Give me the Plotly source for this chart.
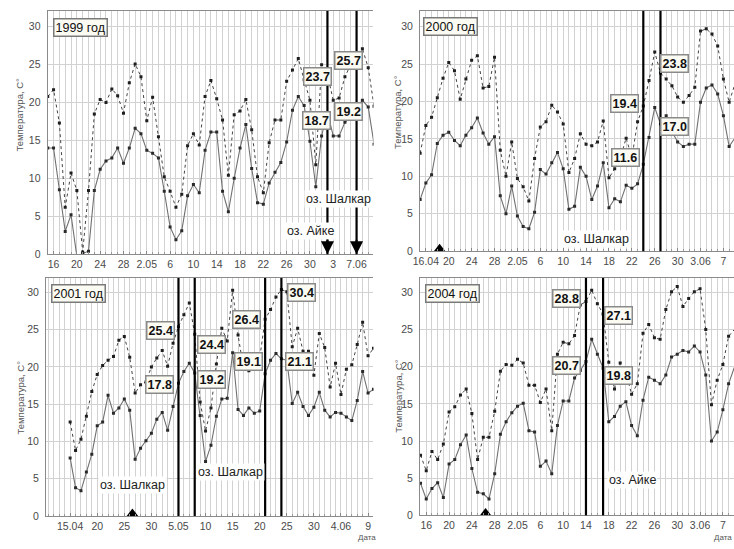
import plotly.graph_objects as go

W, H = 734, 549

# ---- data: daily max / min air temperature, first value = 15 April (day -1 relative to 16 April)
tmax_1999 = [20.8, 21.7, 17.3, 6.2, 10.7, 8.4, 0.3, 8.4, 18.5, 20.4, 20.0, 21.8, 20.9, 18.6, 22.6, 25.1,
             23.4, 17.6, 20.7, 15.5, 10.2, 8.3, 6.2, 7.9, 14.3, 15.9, 14.4, 20.8, 22.9, 20.5, 17.7, 10.4,
             18.4, 18.9, 20.4, 16.4, 10.2, 8.1, 14.7, 17.7, 17.7, 22.8, 24.3, 25.8, 23.0, 20.3, 11.8, 25.0,
             23.7, 20.3, 20.6, 23.4, 25.0, 25.7, 27.1, 24.6, 19.5]
tmin_1999 = [14.0, 14.0, 8.5, 3.0, 5.2, -0.3, 0.1, 0.4, 8.4, 11.2, 12.3, 12.7, 14.0, 12.0, 14.0, 16.6,
             15.9, 13.7, 13.3, 12.7, 8.3, 3.6, 1.9, 3.1, 7.7, 9.2, 8.1, 13.7, 16.1, 16.1, 8.3, 5.6,
             10.0, 14.0, 17.1, 11.3, 6.8, 6.6, 9.4, 10.8, 12.1, 14.8, 19.0, 20.8, 19.6, 14.9, 8.9, 15.6,
             18.7, 15.6, 15.6, 17.4, 18.0, 19.2, 20.3, 19.4, 14.5]

tmax_2000 = [13.1, 16.8, 17.9, 20.5, 23.1, 25.2, 24.1, 20.3, 23.0, 25.5, 26.1, 21.8, 22.0, 25.9, 13.5, 10.0,
             14.6, 9.7, 8.6, 6.7, 12.4, 16.6, 17.3, 19.5, 18.6, 17.0, 10.5, 12.4, 15.7, 14.3, 14.1, 14.6,
             17.4, 9.8, 11.0, 12.5, 15.1, 12.5, 17.3, 19.4, 22.8, 26.6, 23.8, 23.0, 22.1, 20.6, 19.9, 20.8,
             21.9, 29.4, 29.7, 29.0, 27.4, 23.0, 19.9, 22.3]
tmin_2000 = [6.9, 9.1, 10.2, 14.4, 15.5, 15.9, 14.8, 14.1, 15.5, 16.5, 17.8, 15.8, 14.3, 15.3, 7.4, 5.0,
             8.7, 4.7, 3.3, 3.0, 5.2, 10.9, 10.3, 11.8, 13.2, 11.0, 5.6, 6.0, 11.2, 10.0, 6.9, 8.7,
             11.8, 5.8, 7.0, 6.6, 8.8, 8.4, 9.0, 11.6, 15.2, 19.2, 17.0, 18.1, 16.0, 14.6, 14.0, 14.3,
             14.3, 19.9, 21.8, 22.2, 21.0, 18.1, 14.0, 15.1]

tmax_2001 = [12.6, 8.8, 10.3, 13.4, 16.7, 19.0, 20.2, 20.9, 21.4, 23.6, 24.1, 21.3, 16.5, 17.6, 18.0, 20.0,
             21.2, 22.2, 20.1, 23.2, 25.4, 27.0, 28.6, 24.4, 15.3, 11.4, 14.5, 20.4, 25.2, 23.5, 30.3, 24.3,
             19.8, 19.5, 21.5, 21.2, 26.4, 27.7, 29.4, 30.4, 30.1, 22.7, 25.2, 22.1, 22.1, 18.9, 24.5, 22.6,
             17.3, 20.5, 16.3, 19.7, 20.3, 23.0, 26.0, 21.5, 22.5]
tmin_2001 = [7.8, 3.8, 3.4, 5.9, 8.3, 12.1, 12.6, 16.2, 13.8, 14.5, 15.7, 14.2, 7.6, 9.1, 10.1, 11.1,
             13.0, 13.9, 11.5, 14.7, 17.8, 19.4, 20.5, 19.2, 13.5, 7.3, 9.5, 13.4, 15.7, 15.8, 21.9, 14.3,
             13.5, 14.5, 13.8, 14.1, 19.1, 20.9, 21.8, 21.1, 20.9, 15.1, 16.6, 14.7, 13.5, 14.6, 16.6, 14.2,
             13.3, 13.9, 13.8, 13.3, 12.8, 15.5, 19.4, 16.5, 17.0]

tmax_2004 = [8.1, 6.0, 8.6, 7.5, 9.6, 13.9, 14.6, 16.2, 17.0, 13.7, 7.5, 10.5, 10.5, 14.0, 19.4, 20.3,
             20.2, 21.0, 20.5, 17.5, 17.5, 15.2, 17.0, 11.4, 21.7, 23.3, 23.1, 24.2, 28.3, 28.8, 30.3, 28.5,
             27.1, 20.6, 17.0, 20.5, 19.2, 16.3, 17.7, 24.5, 25.7, 23.9, 23.7, 27.7, 30.1, 30.8, 28.1, 29.2,
             30.1, 30.5, 25.0, 14.9, 18.2, 20.3, 24.1, 25.0]
tmin_2004 = [4.3, 2.2, 3.6, 4.4, 2.4, 6.9, 7.5, 9.5, 10.8, 6.3, 3.1, 2.9, 2.2, 5.6, 10.9, 12.6,
             13.8, 14.7, 15.1, 11.4, 11.2, 6.6, 7.3, 5.6, 12.1, 15.4, 15.4, 18.5, 19.5, 20.7, 23.7, 21.7,
             19.8, 12.6, 13.3, 14.7, 15.3, 12.1, 10.7, 15.5, 18.6, 18.2, 17.7, 18.9, 21.3, 21.7, 22.2, 22.0,
             22.8, 22.0, 18.9, 10.0, 11.2, 14.2, 17.7, 19.9]

# ---- tick labels (day offsets from 16 April)
ticks_4day = [0, 4, 8, 12, 16, 20, 24, 28, 32, 36, 40, 44, 48, 52]
labels_1999 = ["16", "20", "24", "28", "2.05", "6", "10", "14", "18", "22", "26", "30", "3", "7.06"]
labels_2000 = ["16.04", "20", "24", "28", "2.05", "6", "10", "14", "18", "22", "26", "30", "3.06", "7"]
labels_2004 = ["16", "20", "24", "28", "2.05", "6", "10", "14", "18", "22", "26", "30", "3.06", "7"]
ticks_5day = [-1, 4, 9, 14, 19, 24, 29, 34, 39, 44, 49, 54]
labels_2001 = ["15.04", "20", "25", "30", "5.05", "10", "15", "20", "25", "30", "4.06", "9"]
y_ticks = [0, 5, 10, 15, 20, 25, 30]

# satellite image dates (day offsets) and the values marked there
sat_1999 = [47, 52]
sat_2000 = [38, 41]
sat_2001 = [19, 22, 35, 38]
sat_2004 = [28, 31]
vals_1999 = ["23.7", "18.7", "25.7", "19.2"]
vals_2000 = ["19.4", "11.6", "23.8", "17.0"]
vals_2001 = ["25.4", "17.8", "24.4", "19.2", "26.4", "19.1", "30.4", "21.1"]
vals_2004 = ["28.8", "20.7", "27.1", "19.8"]
ice_marks = {"2000": 2.4, "2001": 10.5, "2004": 10.4}

LAB_FONT = "Liberation Sans, Arial, sans-serif"
TICK_FONT = "Liberation Sans Narrow, Liberation Sans, Arial, sans-serif"


def px(x, y):
    return x / W, 1 - y / H


panels = [
    dict(year="1999", tmax=tmax_1999, tmin=tmin_1999, ticks=ticks_4day, labels=labels_1999,
         sat=sat_1999, vals=vals_1999, xpx=(41, 370), ypx=(11, 257), xr=(-1.02, 54.9), ytop=32.09,
         year_pos=(74.7, 27.5), ytitle=(13, 116),
         val_pos=[(313, 77), (312, 122), (344.3, 61), (344.3, 112.5)],
         lakes=[("оз. Шалкар", 335, 201), ("оз. Айке", 306.5, 234)]),
    dict(year="2000", tmax=tmax_2000, tmin=tmin_2000, ticks=ticks_4day, labels=labels_2000,
         sat=sat_2000, vals=vals_2000, xpx=(417, 734), ypx=(11, 254), xr=(-1.02, 53.85), ytop=32.1,
         year_pos=(447.5, 26.7), ytitle=(395, 113),
         val_pos=[(623, 105), (624.3, 159.7), (674.2, 64.2), (674.2, 128.3)],
         lakes=[("оз. Шалкар", 595, 241.7)]),
    dict(year="2001", tmax=tmax_2001, tmin=tmin_2001, ticks=ticks_5day, labels=labels_2001,
         sat=sat_2001, vals=vals_2001, xpx=(39.3, 370), ypx=(281, 521.7), xr=(-5.47, 55.0), ytop=31.95,
         year_pos=(72.5, 296.7), ytitle=(14, 402),
         val_pos=[(154.5, 334.2), (154.2, 388.3), (206.3, 348.3), (206.3, 383.3),
                  (241.7, 323.3), (244.2, 365), (297, 296), (295.8, 365)],
         lakes=[("оз. Шалкар", 127, 490.8), ("оз. Шалкар", 225.8, 477.5)]),
    dict(year="2004", tmax=tmax_2004, tmin=tmin_2004, ticks=ticks_4day, labels=labels_2004,
         sat=sat_2004, vals=vals_2004, xpx=(417, 734), ypx=(281, 521), xr=(-1.09, 53.95), ytop=31.96,
         year_pos=(449.5, 296.7), ytitle=(395, 400),
         val_pos=[(564.5, 301.7), (564.5, 370), (617.5, 318.7), (617.5, 380)],
         lakes=[("оз. Айке", 632, 485)]),
]

fig = go.Figure()
annotations = []
shapes = []
GRID = "#d2d2d2"

for i, p in enumerate(panels, start=1):
    xa = "x" if i == 1 else f"x{i}"
    ya = "y" if i == 1 else f"y{i}"
    days = list(range(-1, -1 + len(p["tmax"])))

    fig.add_trace(go.Scatter(x=days, y=p["tmin"], xaxis=xa, yaxis=ya, mode="lines+markers",
                             line=dict(color="#707070", width=1.1),
                             marker=dict(symbol="square", size=3, color="#2a2a2a"),
                             hoverinfo="skip"))
    fig.add_trace(go.Scatter(x=days, y=p["tmax"], xaxis=xa, yaxis=ya, mode="lines+markers",
                             line=dict(color="#444444", width=1, dash="dot"),
                             marker=dict(symbol="square", size=3, color="#1e1e1e"),
                             hoverinfo="skip"))
    if p["year"] in ice_marks:
        fig.add_trace(go.Scatter(x=[ice_marks[p["year"]]], y=[0.32], xaxis=xa, yaxis=ya, mode="markers",
                                 marker=dict(symbol="triangle-up", size=10, color="black"),
                                 cliponaxis=False, hoverinfo="skip"))

    xd = [p["xpx"][0] / W, p["xpx"][1] / W]
    yd = [1 - p["ypx"][1] / H, 1 - p["ypx"][0] / H]
    key = "" if i == 1 else str(i)
    fig.update_layout(**{
        f"xaxis{key}": dict(domain=xd, range=list(p["xr"]), anchor=ya, tickmode="array",
                            tickvals=p["ticks"], ticktext=p["labels"], showgrid=True, gridcolor=GRID,
                            gridwidth=1, showline=True, linecolor="#8a8a8a", linewidth=1, mirror=True,
                            ticks="inside", ticklen=3, tickcolor="#888", zeroline=False,
                            tickfont=dict(family=TICK_FONT, size=10.5, color="#4a4a4a"),
                            minor=dict(tickmode="linear", tick0=0, dtick=1, showgrid=True, gridcolor=GRID,
                                       gridwidth=1, ticks="inside", ticklen=2, tickcolor="#999")),
        f"yaxis{key}": dict(domain=yd, range=[0, p["ytop"]], anchor=xa, tickmode="array",
                            tickvals=y_ticks, showgrid=True, gridcolor=GRID, gridwidth=1, showline=True,
                            linecolor="#8a8a8a", linewidth=1, mirror=False, zeroline=False, ticks="",
                            ticklabelstandoff=4,
                            tickfont=dict(family=TICK_FONT, size=10.5, color="#4a4a4a")),
    })

    for d in p["sat"]:
        shapes.append(dict(type="line", xref=xa, yref=f"{ya} domain", x0=d, x1=d, y0=0, y1=1,
                           line=dict(color="black", width=2.2), layer="above"))

    for txt, (cx, cy) in zip(p["vals"], p["val_pos"]):
        ax_, ay_ = px(cx, cy)
        annotations.append(dict(x=ax_, y=ay_, xref="paper", yref="paper", text=txt, showarrow=False,
                                xanchor="center", yanchor="middle",
                                font=dict(family=LAB_FONT, size=12.5, color="#111", weight="bold"),
                                bgcolor="#fbfbf3", bordercolor="#8a8a8a", borderwidth=1.5, borderpad=1))

    yx, yy = px(*p["year_pos"])
    annotations.append(dict(x=yx, y=yy, xref="paper", yref="paper", text=f"{p['year']} год",
                            showarrow=False, xanchor="center", yanchor="middle",
                            font=dict(family=LAB_FONT, size=12.5, color="#111"),
                            bgcolor="#fbfbf3", bordercolor="#7a7a7a", borderwidth=1.5, borderpad=1))

    for txt, lx, ly in p["lakes"]:
        qx, qy = px(lx, ly)
        annotations.append(dict(x=qx, y=qy, xref="paper", yref="paper", text=txt, showarrow=False,
                                xanchor="center", yanchor="middle",
                                font=dict(family=LAB_FONT, size=12.5, color="#222"),
                                bgcolor="white", borderpad=1))

    tx, ty = px(*p["ytitle"])
    annotations.append(dict(x=tx, y=ty, xref="paper", yref="paper", text="Температура, С°",
                            showarrow=False, textangle=-90, xanchor="center", yanchor="middle",
                            font=dict(family=TICK_FONT, size=9.5, color="#555")))

# arrows at the bottom of the 1999 satellite lines
for d in sat_1999:
    annotations.append(dict(x=d, y=0, xref="x", yref="y", text="", showarrow=True, ax=0, ay=-16,
                            arrowhead=2, arrowsize=1.3, arrowwidth=2, arrowcolor="black", standoff=0))

# axis caption "Дата" on the lower panels
for cx, cy in [(352, 543), (712, 543)]:
    qx, qy = px(cx, cy)
    annotations.append(dict(x=qx, y=qy, xref="paper", yref="paper", text="Дата", showarrow=False,
                            xanchor="left", yanchor="middle",
                            font=dict(family=TICK_FONT, size=8, color="#555")))

fig.update_layout(width=W, height=H, margin=dict(l=0, r=0, t=0, b=0), showlegend=False,
                  plot_bgcolor="white", paper_bgcolor="white", hovermode=False,
                  annotations=annotations, shapes=shapes)

fig.write_html("out.html", config={"displayModeBar": False},
               post_script="document.body.style.margin='0';document.body.style.overflow='hidden';")
